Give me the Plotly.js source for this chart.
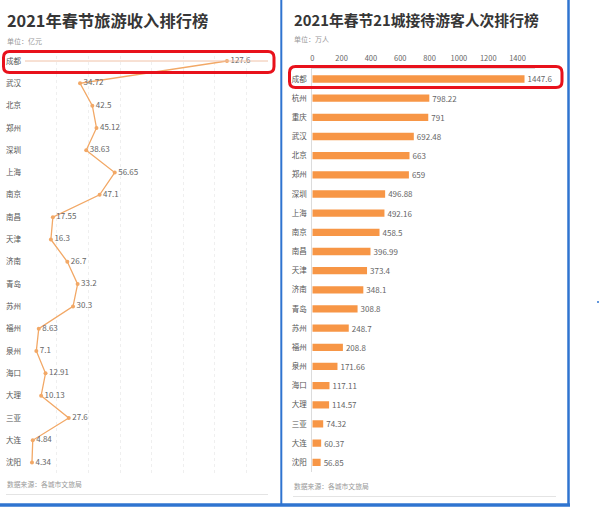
<!DOCTYPE html>
<html>
<head>
<meta charset="utf-8">
<script src="https://cdn.plot.ly/plotly-3.0.1.min.js"></script>
<style>html,body{margin:0;padding:0;background:#fff;}#chart{width:600px;height:508px;}</style>
</head>
<body>
<div id="chart"></div>
<script>
// ---- data ----
const incomeCities = ["成都","武汉","北京","郑州","深圳","上海","南京","南昌","天津","济南","青岛","苏州","福州","泉州","海口","大理","三亚","大连","沈阳"];
const incomeValues = [127.6,34.72,42.5,45.12,38.63,56.65,47.1,17.55,16.3,26.7,33.2,30.3,8.63,7.1,12.91,10.13,27.6,4.84,4.34];
const visitorCities = ["成都","杭州","重庆","武汉","北京","郑州","深圳","上海","南京","南昌","天津","济南","青岛","苏州","福州","泉州","海口","大理","三亚","大连","沈阳"];
const visitorValues = [1447.6,798.22,791,692.48,663,659,496.88,492.16,458.5,396.99,373.4,348.1,308.8,248.7,208.8,171.66,117.11,114.57,74.32,60.37,56.85];
const visitorTicks = [0,200,400,600,800,1000,1200,1400];

const W = 600, H = 508;
const X = v => v / W;
const Y = v => 1 - v / H;
const FONT = '"Noto Sans CJK SC", "Noto Sans", sans-serif';

function rr(x0, y0, x1, y1, r) {
  const f = v => X(v).toFixed(5), g = v => Y(v).toFixed(5);
  return `M${f(x0+r)},${g(y0)} L${f(x1-r)},${g(y0)} Q${f(x1)},${g(y0)} ${f(x1)},${g(y0+r)} ` +
         `L${f(x1)},${g(y1-r)} Q${f(x1)},${g(y1)} ${f(x1-r)},${g(y1)} L${f(x0+r)},${g(y1)} ` +
         `Q${f(x0)},${g(y1)} ${f(x0)},${g(y1-r)} L${f(x0)},${g(y0+r)} Q${f(x0)},${g(y0)} ${f(x0+r)},${g(y0)} Z`;
}

const traces = [
  {
    type: 'scatter', mode: 'lines+markers+text',
    x: incomeValues, y: incomeCities, xaxis: 'x', yaxis: 'y',
    text: incomeValues.map(String), textposition: 'middle right',
    textfont: {family: FONT, size: 8, color: '#666'},
    line: {color: '#f2a866', width: 1.3},
    marker: {color: '#f2a866', size: 4},
    cliponaxis: false, hoverinfo: 'none'
  },
  {
    type: 'bar', orientation: 'h',
    x: visitorValues, y: visitorCities, xaxis: 'x2', yaxis: 'y2',
    text: visitorValues.map(String), textposition: 'outside', constraintext: 'none',
    textfont: {family: FONT, size: 8, color: '#666'},
    marker: {color: '#f79646'},
    cliponaxis: false, hoverinfo: 'none'
  }
];

const leftX0 = 25.1, pxPerUnitL = 1.582, leftX1 = 268;
const rightX0 = 312.3, pxPerUnitR = 0.1466, rightX1 = 535.1;

const layout = {
  width: W, height: H,
  margin: {l: 0, r: 0, t: 0, b: 0},
  paper_bgcolor: '#fff', plot_bgcolor: 'rgba(0,0,0,0)',
  showlegend: false,
  font: {family: FONT, color: '#555'},
  bargap: 0.62,
  xaxis: {
    domain: [X(leftX0), X(leftX1)],
    range: [0, (leftX1 - leftX0) / pxPerUnitL],
    showticklabels: false, ticks: '', showline: false, zeroline: false,
    showgrid: true, gridcolor: '#efefef', griddash: 'dot', dtick: 20,
    fixedrange: true
  },
  yaxis: {
    domain: [Y(61 + 22.31 * 18.5), Y(61 - 22.31 * 0.5)],
    type: 'category', categoryorder: 'array', categoryarray: incomeCities,
    range: [18.5, -0.5],
    showgrid: false, zeroline: false, showline: false, ticks: '',
    tickfont: {family: FONT, size: 7.5, color: '#555'},
    ticklabelstandoff: 3, fixedrange: true
  },
  xaxis2: {
    domain: [X(rightX0), X(rightX1)],
    range: [0, (rightX1 - rightX0) / pxPerUnitR],
    side: 'top', anchor: 'y2',
    tickvals: visitorTicks, ticktext: visitorTicks.map(String),
    tickfont: {family: FONT, size: 7.5, color: '#666'},
    showgrid: false, zeroline: false, ticks: '',
    showline: true, linecolor: '#dcdcdc', linewidth: 1,
    ticklabelstandoff: 4, fixedrange: true
  },
  yaxis2: {
    domain: [Y(79 + 19.165 * 20.5), Y(79 - 19.165 * 0.5)],
    anchor: 'x2',
    type: 'category', categoryorder: 'array', categoryarray: visitorCities,
    range: [20.5, -0.5],
    showgrid: false, zeroline: false, ticks: '',
    showline: true, linecolor: '#dcdcdc', linewidth: 1,
    tickfont: {family: FONT, size: 7.5, color: '#555'},
    ticklabelstandoff: 3, fixedrange: true
  },
  annotations: [
    {text: '2021年春节旅游收入排行榜', x: X(5), y: Y(19.5), xref: 'paper', yref: 'paper',
     xanchor: 'left', yanchor: 'middle', showarrow: false,
     font: {family: FONT, size: 16.3, color: '#363636', weight: 'bold'}},
    {text: '单位：亿元', x: X(5), y: Y(41.5), xref: 'paper', yref: 'paper',
     xanchor: 'left', yanchor: 'middle', showarrow: false,
     font: {family: FONT, size: 7, color: '#999'}},
    {text: '数据来源：各城市文旅局', x: X(5), y: Y(484), xref: 'paper', yref: 'paper',
     xanchor: 'left', yanchor: 'middle', showarrow: false,
     font: {family: FONT, size: 6.8, color: '#999'}},
    {text: '2021年春节21城接待游客人次排行榜', x: X(292), y: Y(19.5), xref: 'paper', yref: 'paper',
     xanchor: 'left', yanchor: 'middle', showarrow: false,
     font: {family: FONT, size: 14.8, color: '#363636', weight: 'bold'}},
    {text: '单位：万人', x: X(292), y: Y(39.5), xref: 'paper', yref: 'paper',
     xanchor: 'left', yanchor: 'middle', showarrow: false,
     font: {family: FONT, size: 7, color: '#999'}},
    {text: '数据来源：各城市文旅局', x: X(292), y: Y(486), xref: 'paper', yref: 'paper',
     xanchor: 'left', yanchor: 'middle', showarrow: false,
     font: {family: FONT, size: 6.8, color: '#999'}}
  ],
  shapes: [
    {type: 'line', xref: 'paper', yref: 'paper', x0: X(25), x1: X(268), y0: Y(61), y1: Y(61),
     line: {color: '#f0c2a8', width: 1}},
    {type: 'line', xref: 'paper', yref: 'paper', x0: X(6), x1: X(268), y0: Y(494.5), y1: Y(494.5),
     line: {color: '#e4e4e4', width: 1.2}},
    {type: 'line', xref: 'paper', yref: 'paper', x0: X(293), x1: X(556), y0: Y(496.5), y1: Y(496.5),
     line: {color: '#e4e4e4', width: 1.2}},
    {type: 'path', xref: 'paper', yref: 'paper', path: rr(3.5, 51.5, 274, 72.5, 6),
     line: {color: '#e8111b', width: 3}},
    {type: 'path', xref: 'paper', yref: 'paper', path: rr(289.5, 66.5, 562, 87.5, 6),
     line: {color: '#e8111b', width: 3}},
    {type: 'line', xref: 'paper', yref: 'paper', x0: X(281.3), x1: X(281.3), y0: Y(0), y1: Y(505),
     line: {color: '#2f74d0', width: 2}},
    {type: 'line', xref: 'paper', yref: 'paper', x0: X(568.5), x1: X(568.5), y0: Y(0), y1: Y(506),
     line: {color: '#2f74d0', width: 2.5}},
    {type: 'line', xref: 'paper', yref: 'paper', x0: X(0), x1: X(570), y0: Y(505), y1: Y(505),
     line: {color: '#2f74d0', width: 3.5}},
    {type: 'line', xref: 'paper', yref: 'paper', x0: X(597), x1: X(599), y0: Y(302), y1: Y(302),
     line: {color: '#2f74d0', width: 1.5}}
  ]
};

Plotly.newPlot('chart', traces, layout, {displayModeBar: false, staticPlot: true});
</script>
</body>
</html>
